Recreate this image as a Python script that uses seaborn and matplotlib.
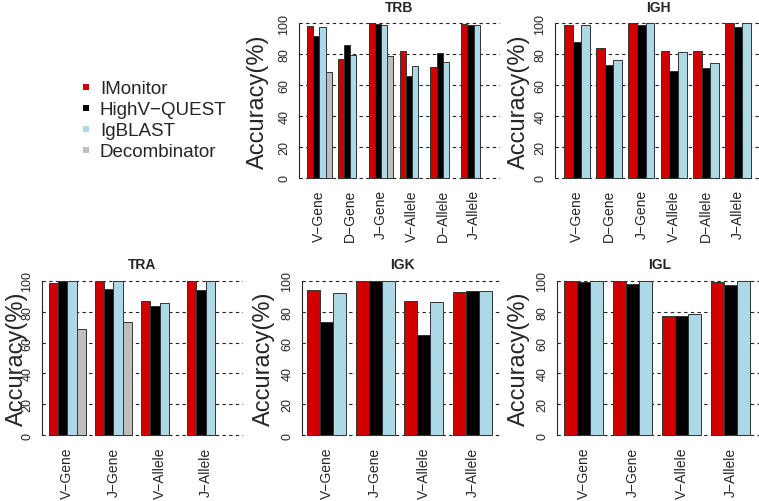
import matplotlib
matplotlib.use('Agg')
import matplotlib.pyplot as plt
from matplotlib.lines import Line2D
import numpy as np
import pandas as pd
import seaborn as sns

MINUS = '\u2212'
TOOLS = ['IMonitor', f'HighV{MINUS}QUEST', 'IgBLAST', 'Decombinator']
TOOL_COLORS = {'IMonitor': '#D00000', f'HighV{MINUS}QUEST': '#000000',
               'IgBLAST': '#ADD8E6', 'Decombinator': '#BEBEBE'}

SIX_REGIONS = [f'V{MINUS}Gene', f'D{MINUS}Gene', f'J{MINUS}Gene',
               f'V{MINUS}Allele', f'D{MINUS}Allele', f'J{MINUS}Allele']
FOUR_REGIONS = [f'V{MINUS}Gene', f'J{MINUS}Gene', f'V{MINUS}Allele', f'J{MINUS}Allele']

# accuracy (%) per tool, one value per region (nan = tool not run)
TRB_IMONITOR = [98.3, 76.9, 100.0, 82.0, 71.5, 99.6]
TRB_HIGHV = [91.4, 85.9, 99.6, 65.7, 80.7, 99.0]
TRB_IGBLAST = [97.4, 79.2, 98.9, 72.4, 74.9, 99.0]
TRB_DECOMB = [68.3, np.nan, 78.4, np.nan, np.nan, np.nan]

IGH_IMONITOR = [98.5, 84.1, 100.0, 81.7, 81.7, 99.8]
IGH_HIGHV = [87.9, 73.1, 98.9, 69.2, 71.0, 97.4]
IGH_IGBLAST = [98.9, 75.9, 99.8, 81.1, 74.0, 99.8]

TRA_IMONITOR = [98.7, 100.0, 86.9, 99.6]
TRA_HIGHV = [100.0, 94.4, 83.4, 94.0]
TRA_IGBLAST = [100.0, 100.0, 85.6, 100.0]
TRA_DECOMB = [68.8, 73.1, np.nan, np.nan]

IGK_IMONITOR = [93.7, 100.0, 87.0, 92.9]
IGK_HIGHV = [73.4, 100.0, 64.8, 93.5]
IGK_IGBLAST = [91.8, 100.0, 86.0, 93.1]

IGL_IMONITOR = [100.0, 99.6, 77.3, 98.9]
IGL_HIGHV = [99.1, 97.6, 76.9, 97.4]
IGL_IGBLAST = [100.0, 100.0, 78.2, 99.6]

FIG_W, FIG_H = 759, 502


def long_table(regions, series):
    rows = []
    for tool, values in series.items():
        for region, v in zip(regions, values):
            if not np.isnan(v):
                rows.append({'region': region, 'tool': tool, 'accuracy': v})
    return pd.DataFrame(rows)


def add_panel(fig, title, regions, series, box, label_off):
    # box: pixel layout (axis x, grid right, first bar left, last bar right, y of 0, y of 100)
    x_axis, x_right, bar_l, bar_r, y0, y100 = box
    s = (y0 - y100) / 100.0
    top, bottom = y100 - 4 * s, y0 + 4 * s
    ax = fig.add_axes([x_axis / FIG_W, 1 - bottom / FIG_H,
                       (x_right - x_axis) / FIG_W, (bottom - top) / FIG_H])
    ax.set_axisbelow(True)
    ax.grid(axis='y', color='#222222', linestyle=(0, (3, 3)), linewidth=0.8)
    df = long_table(regions, series)
    hue_order = list(series.keys())
    sns.barplot(data=df, x='region', y='accuracy', hue='tool', order=regions,
                hue_order=hue_order, palette=TOOL_COLORS, saturation=1,
                errorbar=None, width=0.8, edgecolor='#333333', linewidth=0.7,
                legend=False, ax=ax)
    n = len(regions)
    scale = (bar_r - bar_l) / (n - 0.2)
    ax.set_xlim(-0.4 - (bar_l - x_axis) / scale, n - 0.6 + (x_right - bar_r) / scale)
    ax.set_ylim(-4, 104)
    ax.set_yticks([0, 20, 40, 60, 80, 100])
    for side in ('top', 'right', 'bottom'):
        ax.spines[side].set_visible(False)
    ax.spines['left'].set_bounds(0, 100)
    ax.spines['left'].set_linewidth(0.8)
    ax.tick_params(axis='y', direction='out', length=4.3, width=0.8,
                   labelsize=9, pad=2, labelrotation=90)
    for lab in ax.get_yticklabels():
        lab.set_va('center')
    ax.tick_params(axis='x', length=0, labelsize=10, pad=3.6, labelrotation=90)
    ax.set_xlabel('')
    ax.set_ylabel('Accuracy(%)', fontsize=17)
    ax.yaxis.set_label_coords(label_off / (x_right - x_axis), 0.5)
    ax.annotate(title, xy=(0.5, 1), xycoords='axes fraction', xytext=(0, 7.3),
                textcoords='offset points', ha='center', va='center',
                fontsize=10, fontweight='bold')
    return ax


def main():
    sns.set_style('white')
    plt.rcParams['font.family'] = ['Liberation Sans', 'DejaVu Sans']
    plt.rcParams['axes.unicode_minus'] = True
    fig = plt.figure(figsize=(FIG_W / 100, FIG_H / 100), dpi=100)

    add_panel(fig, 'TRB', SIX_REGIONS,
              {TOOLS[0]: TRB_IMONITOR, TOOLS[1]: TRB_HIGHV,
               TOOLS[2]: TRB_IGBLAST, TOOLS[3]: TRB_DECOMB},
              (299, 500, 307, 486, 179, 24), -30)
    add_panel(fig, 'IGH', SIX_REGIONS,
              {TOOLS[0]: IGH_IMONITOR, TOOLS[1]: IGH_HIGHV, TOOLS[2]: IGH_IGBLAST},
              (555, 762, 564, 751, 179, 24), -25)
    add_panel(fig, 'TRA', FOUR_REGIONS,
              {TOOLS[0]: TRA_IMONITOR, TOOLS[1]: TRA_HIGHV,
               TOOLS[2]: TRA_IGBLAST, TOOLS[3]: TRA_DECOMB},
              (42, 243, 49, 224, 436.3, 281.7), -14)
    add_panel(fig, 'IGK', FOUR_REGIONS,
              {TOOLS[0]: IGK_IMONITOR, TOOLS[1]: IGK_HIGHV, TOOLS[2]: IGK_IGBLAST},
              (302, 502, 307, 492, 436.3, 281.7), -27)
    add_panel(fig, 'IGL', FOUR_REGIONS,
              {TOOLS[0]: IGL_IMONITOR, TOOLS[1]: IGL_HIGHV, TOOLS[2]: IGL_IGBLAST},
              (557, 762, 564, 750, 436.3, 281.7), -27)

    handles = [Line2D([], [], marker='s', linestyle='', markersize=5,
                      markerfacecolor=TOOL_COLORS[t], markeredgewidth=0)
               for t in TOOLS]
    fig.legend(handles, TOOLS, loc='upper left', frameon=False,
               bbox_to_anchor=(81 / FIG_W, 1 - 81 / FIG_H), borderpad=0,
               borderaxespad=0, fontsize=13.5, handlelength=0.5,
               handletextpad=0.5, labelspacing=0.21)
    fig.savefig('out.png', dpi=100)


if __name__ == '__main__':
    main()
